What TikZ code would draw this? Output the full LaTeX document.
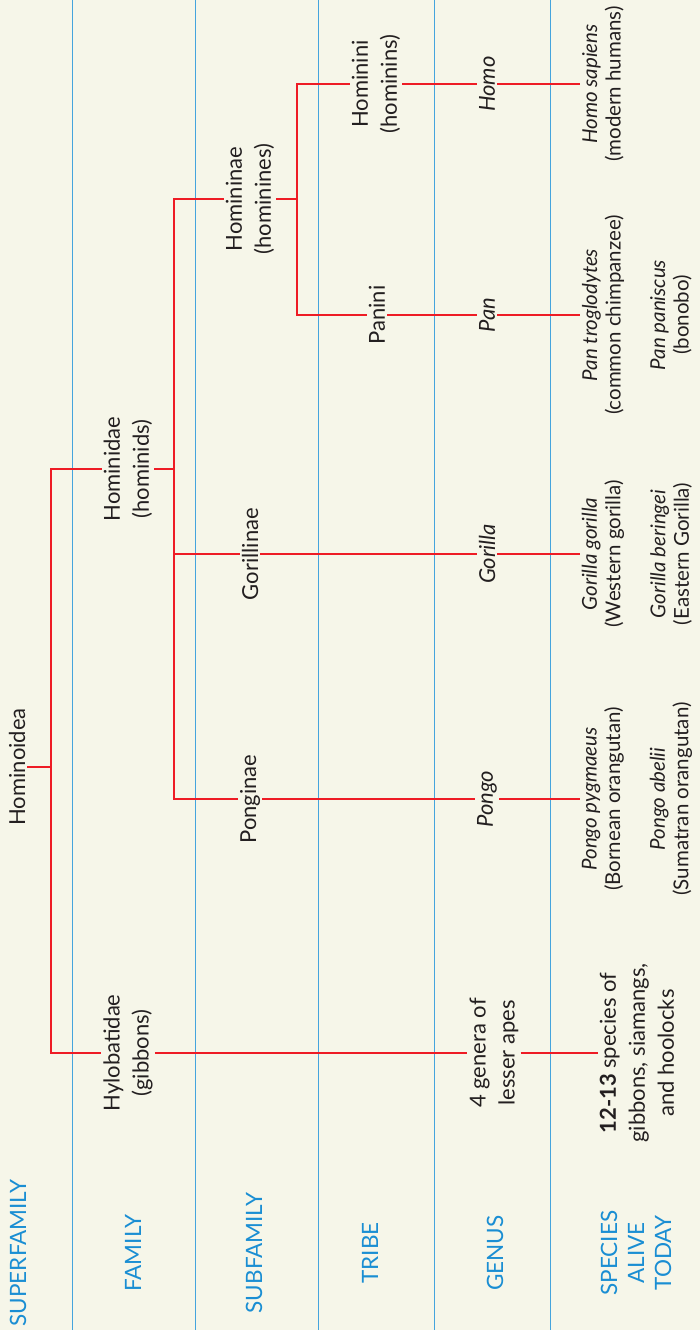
\documentclass[tikz,border=0pt]{standalone}
\usepackage{fontspec}
\setmainfont{Lato}
\definecolor{bgc}{HTML}{F6F6E9}
\definecolor{treered}{HTML}{EE1C25}
\definecolor{rankblue}{HTML}{1A8ED3}
\definecolor{gridblue}{HTML}{45A4DD}
\definecolor{inkc}{HTML}{231F20}
\begin{document}
\begin{tikzpicture}[x=1pt,y=-1pt,
  lbl/.style={rotate=90, align=center, inner sep=2pt, text=inkc, font=\fontsize{22}{29}\selectfont},
  spc/.style={rotate=90, align=center, inner sep=2pt, text=inkc, font=\fontsize{20.5}{23.5}\selectfont},
  rank/.style={rotate=90, align=center, inner sep=1pt, text=rankblue, font=\fontsize{22.5}{27}\selectfont},
  tree/.style={draw=treered, line width=2.2pt},
  gridline/.style={draw=gridblue, line width=1pt}]
\fill[bgc] (0,0) rectangle (700,1330);
\useasboundingbox (0,0) rectangle (700,1330);
% grid
\foreach \gx in {72,195,318,434,550} \draw[gridline] (\gx,0) -- (\gx,1330);
% rank labels
\node[rank] (rSuper) at (18,1253) {SUPERFAMILY};
\node[rank] (rFam) at (133,1253) {FAMILY};
\node[rank] (rSub) at (254,1253) {SUBFAMILY};
\node[rank] (rTribe) at (370,1253) {TRIBE};
\node[rank] (rGenus) at (495,1253) {GENUS};
\node[rank] (rSpecies) at (636,1253) {SPECIES\\ALIVE\\TODAY};
% taxa
\node[lbl] (hominoidea) at (17,767) {Hominoidea};
\node[lbl] (hylo) at (128,1053) {Hylobatidae\\(gibbons)};
\node[lbl] (hominidae) at (128,469) {Hominidae\\(hominids)};
\node[lbl] (ponginae) at (250,799) {Ponginae};
\node[lbl] (gorillinae) at (250,554) {Gorillinae};
\node[lbl] (homininae) at (250,199) {Homininae\\(hominines)};
\node[lbl] (panini) at (377,315) {Panini};
\node[lbl] (hominini) at (376,84) {Hominini\\(hominins)};
\node[lbl] (homo) at (487,84) {\itshape Homo};
\node[lbl] (pan) at (487,315) {\itshape Pan};
\node[lbl] (gorilla) at (487,554) {\itshape Gorilla};
\node[lbl] (pongo) at (487,799) {\itshape Pongo};
\node[lbl] (lesser) at (494,1053) {4 genera of\\lesser apes};
\node[spc] (sapiens) at (603,84) {\textit{Homo sapiens}\\(modern humans)};
\node[spc] (trog) at (603,315) {\textit{Pan troglodytes}\\(common chimpanzee)};
\node[spc] (panisc) at (671,315) {\textit{Pan paniscus}\\(bonobo)};
\node[spc] (ggor) at (603,554) {\textit{Gorilla gorilla}\\(Western gorilla)};
\node[spc] (gber) at (671,554) {\textit{Gorilla beringei}\\(Eastern Gorilla)};
\node[spc] (ppyg) at (603,799) {\textit{Pongo pygmaeus}\\(Bornean orangutan)};
\node[spc] (pabe) at (671,799) {\textit{Pongo abelii}\\(Sumatran orangutan)};
\node[lbl] (gibsp) at (637,1053) {\textbf{12-13} species of\\gibbons, siamangs,\\and hoolocks};
% junction columns
\coordinate (c1) at (51,0);
\coordinate (c2) at (174,0);
\coordinate (c3) at (297,0);
% connectors
\draw[tree] (hominoidea.south) -- (hominoidea.south -| c1);
\draw[tree] (hominidae.north) -- (hominidae.north -| c1) |- (hylo.north);
\draw[tree] (hylo.south) -- (lesser.north);
\draw[tree] (lesser.south) -- (gibsp.north);
\draw[tree] (hominidae.south) -- (hominidae.south -| c2);
\draw[tree] (homininae.north) -- (homininae.north -| c2) |- (ponginae.north);
\draw[tree] (gorillinae.north) -- (gorillinae.north -| c2);
\draw[tree] (ponginae.south) -- (pongo.north);
\draw[tree] (pongo.south) -- (ppyg.north);
\draw[tree] (gorillinae.south) -- (gorilla.north);
\draw[tree] (gorilla.south) -- (ggor.north);
\draw[tree] (homininae.south) -- (homininae.south -| c3);
\draw[tree] (hominini.north) -- (hominini.north -| c3) |- (panini.north);
\draw[tree] (panini.south) -- (pan.north);
\draw[tree] (pan.south) -- (trog.north);
\draw[tree] (hominini.south) -- (homo.north);
\draw[tree] (homo.south) -- (sapiens.north);
\end{tikzpicture}
\end{document}
